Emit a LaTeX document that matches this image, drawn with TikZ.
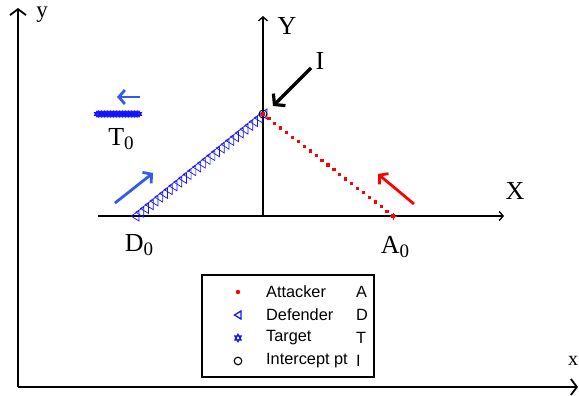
\documentclass[tikz,border=0pt]{standalone}
\usepackage{fontspec}
\setmainfont{Liberation Serif}
\newfontfamily\lsans{Liberation Sans}
\usetikzlibrary{arrows.meta}
\definecolor{arrblue}{RGB}{50,90,235}
\definecolor{mblue}{RGB}{20,20,255}
\tikzset{
  outeraxis/.style={line width=1.8pt,-{Straight Barb[length=6pt,width=16pt,line width=1.8pt]}},
  inneraxis/.style={line width=1.3pt,-{Straight Barb[length=4pt,width=9pt,line width=1.3pt]}},
  motion/.style={line width=2.8pt,-{Straight Barb[length=6pt,width=14pt,line width=2.8pt]}},
  biglabel/.style={font=\fontsize{26}{26}\selectfont,inner sep=0pt},
  legtext/.style={font=\lsans\fontsize{16.3}{17}\selectfont,inner sep=0pt,anchor=west},
}
\newcommand{\subz}{\raisebox{-0.4ex}{\fontsize{19}{19}\selectfont 0}}
\begin{document}
\begin{tikzpicture}[x=1pt,y=-1pt]
\useasboundingbox (0,0) rectangle (579,396);
% outer axes
\coordinate (O) at (18,387);
\coordinate (oy) at (18,8);
\coordinate (ox) at (578,387);
\draw[outeraxis] (O) -- (oy);
\draw[outeraxis] (O) -- (ox);
\node[font=\fontsize{23}{23}\selectfont,inner sep=0pt] (ly) at (42,15) {y};
\node[font=\fontsize{20}{20}\selectfont,inner sep=0pt] (lx) at (573,361) {x};
% inner axes
\coordinate (xl) at (98,216);
\coordinate (xr) at (504,216);
\coordinate (yb) at (263,216);
\coordinate (yt) at (263,16);
\draw[inneraxis] (xl) -- (xr);
\draw[inneraxis] (yb) -- (yt);
\node[biglabel] (lX) at (515,191) {X};
\node[biglabel] (lY) at (287,26) {Y};
% points
\coordinate (D) at (135,216);
\coordinate (Ip) at (263,114);
\coordinate (A) at (393,216);
% defender trajectory
\foreach \i in {0,...,27}{
  \path (D) -- (Ip) coordinate[pos=\i/27] (t\i);
  \draw[mblue,line width=0.7pt] (t\i) ++(-4,0) -- ++(8,-5) -- ++(0,10) -- cycle;
}
% attacker trajectory
\foreach \i in {0,...,22}{
  \path (A) -- (Ip) coordinate[pos=\i/22] (r\i);
  \fill[red] (r\i) ++(-1.6,-1.6) rectangle ++(3.2,3.2);
}
\draw[red,line width=0.8pt] (A) ++(-3.5,0) -- ++(7,0) (A) ++(0,-3.5) -- ++(0,7);
% intercept
\draw[black,line width=0.9pt] (Ip) circle (4);
\node[biglabel] (lI) at (320,61) {I};
\coordinate (Itail) at (311,68);
\coordinate (Itip) at (273,106);
\draw[line width=3.2pt,-{Straight Barb[length=7pt,width=17pt,line width=3.2pt]}] (Itail) -- (Itip);
% motion arrows
\coordinate (bt) at (115,203);
\coordinate (bh) at (153,173);
\draw[motion,arrblue] (bt) -- (bh);
\coordinate (rt) at (414,204);
\coordinate (rh) at (378,174);
\draw[motion,red] (rt) -- (rh);
\coordinate (lt) at (140,97);
\coordinate (lh) at (117,97);
\draw[motion,arrblue] (lt) -- (lh);
% target
\coordinate (T1) at (97,114);
\coordinate (T2) at (139,114);
\foreach \i in {0,...,28}{
  \path (T1) -- (T2) coordinate[pos=\i/28] (s\i);
  \draw[mblue,line width=0.8pt] (s\i) ++(0,-3) -- ++(2.6,4.5) -- ++(-5.2,0) -- cycle
                                (s\i) ++(0,3) -- ++(2.6,-4.5) -- ++(-5.2,0) -- cycle;
}
% labels
\node[biglabel] (lT) at (121,139) {T\subz};
\node[biglabel] (lD) at (139,245) {D\subz};
\node[biglabel] (lA) at (395,247) {A\subz};
% legend
\node[draw,line width=2pt,minimum width=172pt,minimum height=102pt,inner sep=0pt] (leg) at (287.5,326) {};
\fill[red] (238,292) circle (2.2);
\node[legtext] (t1) at (266,292) {Attacker};
\node[legtext] (a1) at (356,292) {A};
\draw[mblue,line width=1.3pt] (234.5,315) -- (241,311) -- (241,319) -- cycle;
\node[legtext] (t2) at (266,315) {Defender};
\node[legtext] (a2) at (356,315) {D};
\draw[mblue,line width=1.2pt] (238,334.3) -- (241.2,340) -- (234.8,340) -- cycle
                               (238,341.7) -- (241.2,336) -- (234.8,336) -- cycle;
\node[legtext] (t3) at (266,338) {Target};
\node[legtext] (a3) at (356,338) {T};
\draw[black,line width=1.1pt] (238,361) circle (3.8);
\node[legtext] (t4) at (266,361) {Intercept pt};
\node[legtext] (a4) at (356,361) {I};
\end{tikzpicture}
\end{document}
